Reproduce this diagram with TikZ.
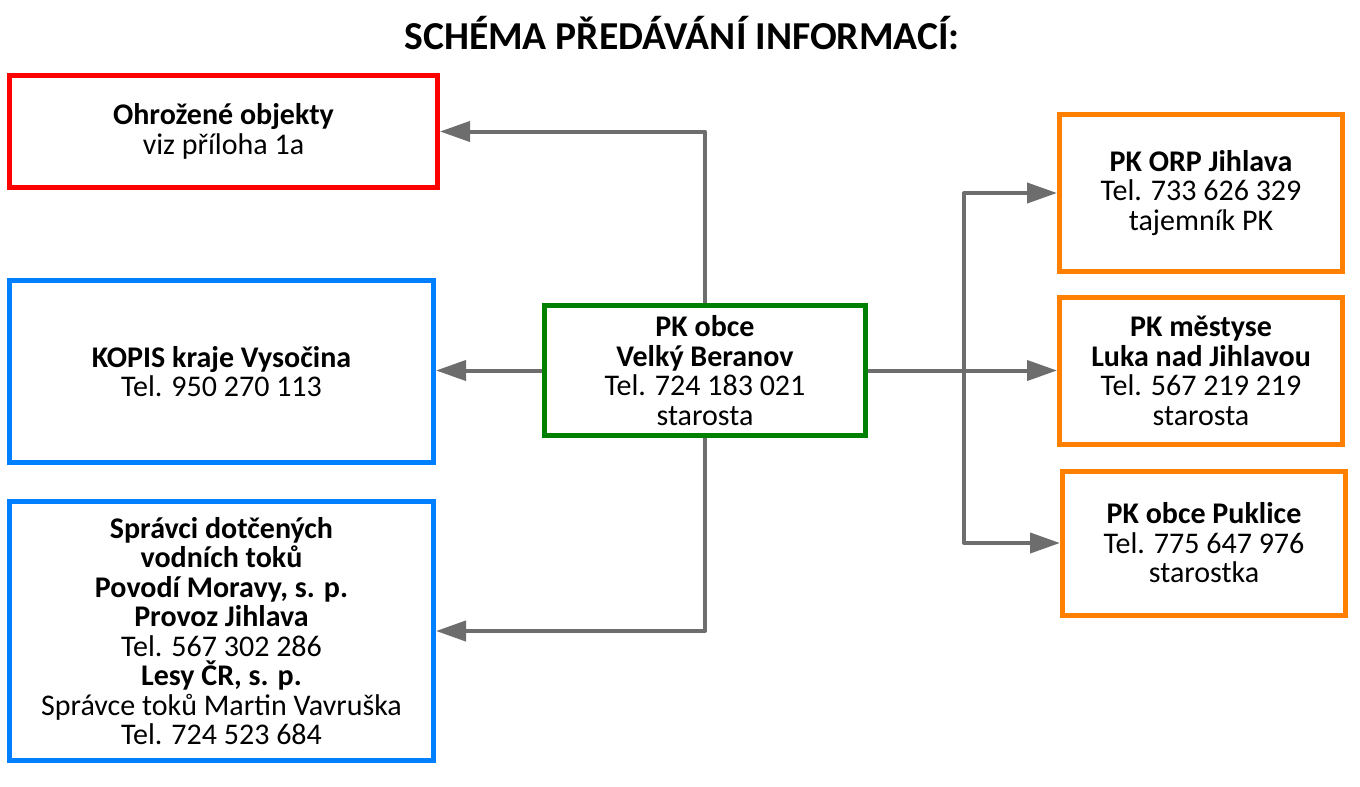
\documentclass[tikz,border=0pt]{standalone}
\usepackage{fontspec}
\setmainfont{Carlito}
\usetikzlibrary{arrows.meta}
\definecolor{cred}{RGB}{255,0,0}
\definecolor{cblue}{RGB}{0,128,255}
\definecolor{cgreen}{RGB}{0,128,0}
\definecolor{corange}{RGB}{255,128,0}
\definecolor{cgray}{RGB}{109,109,109}
\tikzset{
  box/.style={draw, line width=5pt, fill=white, align=center, inner sep=2pt,
    font=\fontsize{30}{29.5}\selectfont},
  arr/.style={draw=cgray, line width=4pt, line join=round,
    -{Triangle[length=30pt,width=20pt]}},
  ln/.style={draw=cgray, line width=4pt, line join=round}
}
\begin{document}
\begin{tikzpicture}[x=1pt,y=-1pt]
\useasboundingbox (0,0) rectangle (1360,787);
\node[font=\fontsize{39.6}{42}\selectfont\bfseries] (title) at (682,33) {SCHÉMA PŘEDÁVÁNÍ INFORMACÍ:};
\node[box, draw=cred, minimum width=428pt, minimum height=112pt] (red) at (223.5,131.5)
  {\textbf{Ohrožené objekty}\\viz příloha 1a};
\node[box, draw=cblue, minimum width=424pt, minimum height=182pt] (kopis) at (221.5,371.5)
  {\textbf{KOPIS kraje Vysočina}\\Tel. 950 270 113};
\node[box, draw=cblue, minimum width=424pt, minimum height=259pt] (spr) at (221.5,631)
  {\textbf{Správci dotčených}\\\textbf{vodních toků}\\\textbf{Povodí Moravy, s. p.}\\\textbf{Provoz Jihlava}\\Tel. 567 302 286\\\textbf{Lesy ČR, s. p.}\\Správce toků Martin Vavruška\\Tel. 724 523 684};
\node[box, draw=cgreen, minimum width=321pt, minimum height=130pt] (g) at (705,370.5)
  {\textbf{PK obce}\\\textbf{Velký Beranov}\\Tel. 724 183 021\\starosta};
\node[box, draw=corange, minimum width=283pt, minimum height=157pt] (o1) at (1201,193)
  {\textbf{PK ORP Jihlava}\\Tel. 733 626 329\\tajemník PK};
\node[box, draw=corange, minimum width=283pt, minimum height=147pt] (o2) at (1201,371)
  {\textbf{PK městyse}\\\textbf{Luka nad Jihlavou}\\Tel. 567 219 219\\starosta};
\node[box, draw=corange, minimum width=283pt, minimum height=144pt] (o3) at (1204,543)
  {\textbf{PK obce Puklice}\\Tel. 775 647 976\\starostka};
\coordinate (br) at (964,371);
\draw[arr] (g.north) |- (red.east);
\draw[arr] (g.west) -- (g.west -| kopis.east);
\draw[arr] (g.south) |- (spr.east);
\draw[arr] (g.east) -- (g.east -| o2.west);
\draw[arr] (br) |- (o1.west);
\draw[arr] (br) |- (o3.west);
\end{tikzpicture}
\end{document}
